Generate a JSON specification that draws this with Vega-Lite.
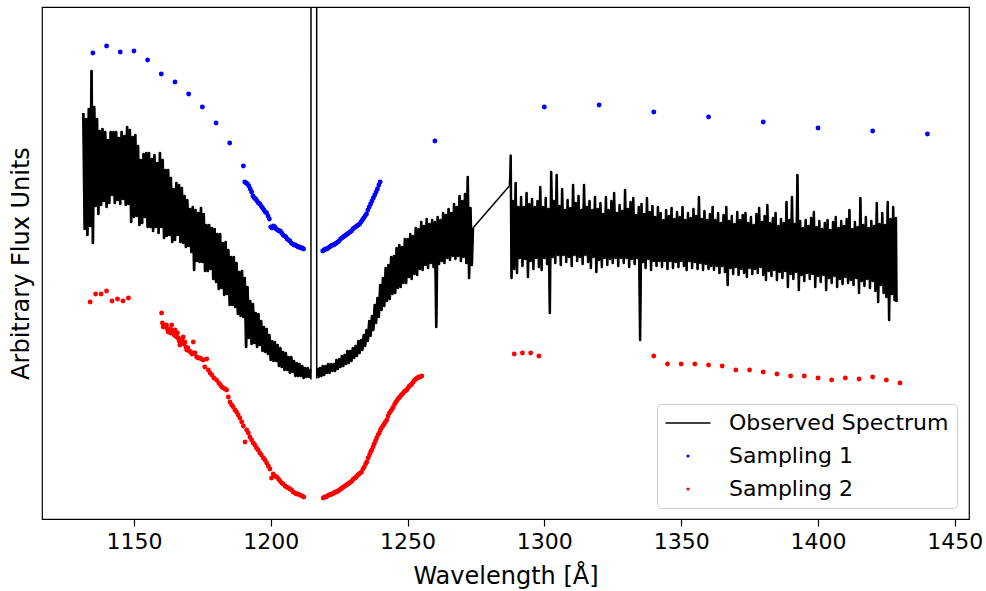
{
"$schema":"https://vega.github.io/schema/vega-lite/v6.json",
"width":927,"height":512,
"autosize":{"type":"none"},
"padding":{"left":42,"top":7,"right":17,"bottom":72},
"background":"white",
"config":{"font":"DejaVu Sans","view":{"stroke":"black","strokeWidth":1.2}},
"datasets":{
"spec":[
{"w":1131.5,"f":406},{"w":1132,"f":290},{"w":1132.5,"f":400},{"w":1133,"f":284},{"w":1133.5,"f":410},{"w":1134,"f":293},{"w":1134.5,"f":448},{"w":1135,"f":276},{"w":1135.5,"f":412},{"w":1136,"f":313},{"w":1136.5,"f":400},{"w":1137,"f":305},{"w":1137.5,"f":388},{"w":1138,"f":314},{"w":1138.5,"f":390},{"w":1139,"f":318},{"w":1139.5,"f":387},{"w":1140,"f":312},{"w":1140.5,"f":379},{"w":1141,"f":316},{"w":1141.5,"f":387},{"w":1142,"f":324},{"w":1142.5,"f":387},{"w":1143,"f":316},{"w":1143.5,"f":387},{"w":1144,"f":319},{"w":1144.5,"f":381},{"w":1145,"f":315},{"w":1145.5,"f":387},{"w":1146,"f":320},{"w":1146.5,"f":383},{"w":1147,"f":314},{"w":1147.5,"f":392},{"w":1148,"f":315},{"w":1148.5,"f":389},{"w":1149,"f":297},{"w":1149.5,"f":382},{"w":1150,"f":302},{"w":1150.5,"f":384},{"w":1151,"f":303},{"w":1151.5,"f":373},{"w":1152,"f":294},{"w":1152.5,"f":359},{"w":1153,"f":296},{"w":1153.5,"f":365},{"w":1154,"f":302},{"w":1154.5,"f":366},{"w":1155,"f":292},{"w":1155.5,"f":366},{"w":1156,"f":292},{"w":1156.5,"f":360},{"w":1157,"f":288},{"w":1157.5,"f":364},{"w":1158,"f":292},{"w":1158.5,"f":356},{"w":1159,"f":286},{"w":1159.5,"f":366},{"w":1160,"f":292},{"w":1160.5,"f":359},{"w":1161,"f":281},{"w":1161.5,"f":349},{"w":1162,"f":283},{"w":1162.5,"f":349},{"w":1163,"f":284},{"w":1163.5,"f":341},{"w":1164,"f":277},{"w":1164.5,"f":330},{"w":1165,"f":279},{"w":1165.5,"f":336},{"w":1166,"f":284},{"w":1166.5,"f":334},{"w":1167,"f":277},{"w":1167.5,"f":331},{"w":1168,"f":276},{"w":1168.5,"f":323},{"w":1169,"f":272},{"w":1169.5,"f":319},{"w":1170,"f":273},{"w":1170.5,"f":310},{"w":1171,"f":267},{"w":1171.5,"f":312},{"w":1172,"f":249},{"w":1172.5,"f":309},{"w":1173,"f":258},{"w":1173.5,"f":306},{"w":1174,"f":257},{"w":1174.5,"f":311},{"w":1175,"f":257},{"w":1175.5,"f":305},{"w":1176,"f":248},{"w":1176.5,"f":294},{"w":1177,"f":248},{"w":1177.5,"f":294},{"w":1178,"f":250},{"w":1178.5,"f":291},{"w":1179,"f":240},{"w":1179.5,"f":290},{"w":1180,"f":237},{"w":1180.5,"f":285},{"w":1181,"f":230},{"w":1181.5,"f":285},{"w":1182,"f":231},{"w":1182.5,"f":276},{"w":1183,"f":224},{"w":1183.5,"f":277},{"w":1184,"f":225},{"w":1184.5,"f":269},{"w":1185,"f":214},{"w":1185.5,"f":262},{"w":1186,"f":214},{"w":1186.5,"f":262},{"w":1187,"f":212},{"w":1187.5,"f":256},{"w":1188,"f":205},{"w":1188.5,"f":247},{"w":1189,"f":203},{"w":1189.5,"f":248},{"w":1190,"f":202},{"w":1190.5,"f":241},{"w":1191,"f":172},{"w":1191.5,"f":232},{"w":1192,"f":181},{"w":1192.5,"f":218},{"w":1193,"f":175},{"w":1193.5,"f":215},{"w":1194,"f":176},{"w":1194.5,"f":206},{"w":1195,"f":172},{"w":1195.5,"f":205},{"w":1196,"f":174},{"w":1196.5,"f":198},{"w":1197,"f":168},{"w":1197.5,"f":192},{"w":1198,"f":167},{"w":1198.5,"f":190},{"w":1199,"f":165},{"w":1199.5,"f":184},{"w":1200,"f":159},{"w":1200.5,"f":178},{"w":1201,"f":158},{"w":1201.5,"f":177},{"w":1202,"f":158},{"w":1202.5,"f":174},{"w":1203,"f":153},{"w":1203.5,"f":171},{"w":1204,"f":152},{"w":1204.5,"f":167},{"w":1205,"f":149},{"w":1205.5,"f":166},{"w":1206,"f":149},{"w":1206.5,"f":162},{"w":1207,"f":146},{"w":1207.5,"f":162},{"w":1208,"f":147},{"w":1208.5,"f":158},{"w":1209,"f":143},{"w":1209.5,"f":156},{"w":1210,"f":143},{"w":1210.5,"f":155},{"w":1211,"f":143},{"w":1211.5,"f":153},{"w":1212,"f":141},{"w":1212.5,"f":151},{"w":1213,"f":142},{"w":1213.5,"f":151},{"w":1214,"f":142},{"w":1214.5,"f":150},{"w":1214.7,"f":140},{"w":1214.9,"f":6000},{"w":1216.6,"f":6000},{"w":1216.8,"f":141},
{"w":1217,"f":151},{"w":1217.5,"f":142},{"w":1218,"f":151},{"w":1218.5,"f":143},{"w":1219,"f":153},{"w":1219.5,"f":144},{"w":1220,"f":153},{"w":1220.5,"f":146},{"w":1221,"f":155},{"w":1221.5,"f":146},{"w":1222,"f":155},{"w":1222.5,"f":148},{"w":1223,"f":155},{"w":1223.5,"f":148},{"w":1224,"f":159},{"w":1224.5,"f":150},{"w":1225,"f":160},{"w":1225.5,"f":152},{"w":1226,"f":163},{"w":1226.5,"f":153},{"w":1227,"f":164},{"w":1227.5,"f":155},{"w":1228,"f":168},{"w":1228.5,"f":156},{"w":1229,"f":168},{"w":1229.5,"f":158},{"w":1230,"f":171},{"w":1230.5,"f":161},{"w":1231,"f":173},{"w":1231.5,"f":163},{"w":1232,"f":178},{"w":1232.5,"f":166},{"w":1233,"f":179},{"w":1233.5,"f":169},{"w":1234,"f":184},{"w":1234.5,"f":173},{"w":1235,"f":189},{"w":1235.5,"f":178},{"w":1236,"f":198},{"w":1236.5,"f":183},{"w":1237,"f":203},{"w":1237.5,"f":189},{"w":1238,"f":214},{"w":1238.5,"f":196},{"w":1239,"f":221},{"w":1239.5,"f":202},{"w":1240,"f":234},{"w":1240.5,"f":209},{"w":1241,"f":241},{"w":1241.5,"f":213},{"w":1242,"f":251},{"w":1242.5,"f":218},{"w":1243,"f":254},{"w":1243.5,"f":220},{"w":1244,"f":262},{"w":1244.5,"f":225},{"w":1245,"f":263},{"w":1245.5,"f":226},{"w":1246,"f":271},{"w":1246.5,"f":231},{"w":1247,"f":274},{"w":1247.5,"f":232},{"w":1248,"f":272},{"w":1248.5,"f":236},{"w":1249,"f":280},{"w":1249.5,"f":236},{"w":1250,"f":280},{"w":1250.5,"f":242},{"w":1251,"f":285},{"w":1251.5,"f":240},{"w":1252,"f":283},{"w":1252.5,"f":245},{"w":1253,"f":291},{"w":1253.5,"f":244},{"w":1254,"f":290},{"w":1254.5,"f":250},{"w":1255,"f":297},{"w":1255.5,"f":249},{"w":1256,"f":293},{"w":1256.5,"f":254},{"w":1257,"f":300},{"w":1257.5,"f":251},{"w":1258,"f":295},{"w":1258.5,"f":256},{"w":1259,"f":299},{"w":1259.5,"f":252},{"w":1260,"f":297},{"w":1260.5,"f":192},{"w":1261,"f":302},{"w":1261.5,"f":255},{"w":1262,"f":299},{"w":1262.5,"f":258},{"w":1263,"f":306},{"w":1263.5,"f":256},{"w":1264,"f":304},{"w":1264.5,"f":261},{"w":1265,"f":310},{"w":1265.5,"f":259},{"w":1266,"f":306},{"w":1266.5,"f":263},{"w":1267,"f":315},{"w":1267.5,"f":260},{"w":1268,"f":312},{"w":1268.5,"f":263},{"w":1269,"f":323},{"w":1269.5,"f":258},{"w":1270,"f":318},{"w":1270.5,"f":262},{"w":1271,"f":325},{"w":1271.5,"f":256},{"w":1272,"f":342},{"w":1272.5,"f":241},{"w":1273,"f":311},{"w":1273.5,"f":254},{"w":1273.9,"f":291},
{"w":1287.2,"f":333},{"w":1287.7,"f":364},{"w":1288,"f":241},
{"w":1288.5,"f":318},{"w":1289,"f":250},{"w":1289.5,"f":336},{"w":1290,"f":246},{"w":1290.5,"f":312},{"w":1291,"f":261},{"w":1291.5,"f":322},{"w":1292,"f":253},{"w":1292.5,"f":312},{"w":1293,"f":260},{"w":1293.5,"f":326},{"w":1294,"f":242},{"w":1294.5,"f":315},{"w":1295,"f":258},{"w":1295.5,"f":320},{"w":1296,"f":250},{"w":1296.5,"f":312},{"w":1297,"f":261},{"w":1297.5,"f":318},{"w":1298,"f":252},{"w":1298.5,"f":332},{"w":1299,"f":249},{"w":1299.5,"f":312},{"w":1300,"f":261},{"w":1300.5,"f":321},{"w":1301,"f":255},{"w":1301.5,"f":310},{"w":1302,"f":206},{"w":1302.5,"f":347},{"w":1303,"f":262},{"w":1303.5,"f":318},{"w":1304,"f":256},{"w":1304.5,"f":344},{"w":1305,"f":264},{"w":1305.5,"f":313},{"w":1306,"f":254},{"w":1306.5,"f":330},{"w":1307,"f":264},{"w":1307.5,"f":309},{"w":1308,"f":257},{"w":1308.5,"f":319},{"w":1309,"f":262},{"w":1309.5,"f":311},{"w":1310,"f":253},{"w":1310.5,"f":334},{"w":1311,"f":264},{"w":1311.5,"f":316},{"w":1312,"f":258},{"w":1312.5,"f":323},{"w":1313,"f":262},{"w":1313.5,"f":309},{"w":1314,"f":255},{"w":1314.5,"f":334},{"w":1315,"f":264},{"w":1315.5,"f":312},{"w":1316,"f":257},{"w":1316.5,"f":318},{"w":1317,"f":251},{"w":1317.5,"f":309},{"w":1318,"f":262},{"w":1318.5,"f":322},{"w":1319,"f":247},{"w":1319.5,"f":310},{"w":1320,"f":259},{"w":1320.5,"f":316},{"w":1321,"f":252},{"w":1321.5,"f":305},{"w":1322,"f":261},{"w":1322.5,"f":322},{"w":1323,"f":254},{"w":1323.5,"f":309},{"w":1324,"f":260},{"w":1324.5,"f":318},{"w":1325,"f":256},{"w":1325.5,"f":326},{"w":1326,"f":261},{"w":1326.5,"f":306},{"w":1327,"f":253},{"w":1327.5,"f":314},{"w":1328,"f":261},{"w":1328.5,"f":308},{"w":1329,"f":256},{"w":1329.5,"f":329},{"w":1330,"f":261},{"w":1330.5,"f":310},{"w":1331,"f":252},{"w":1331.5,"f":317},{"w":1332,"f":260},{"w":1332.5,"f":321},{"w":1333,"f":255},{"w":1333.5,"f":304},{"w":1334,"f":261},{"w":1334.5,"f":312},{"w":1335,"f":179},{"w":1335.5,"f":315},{"w":1336,"f":257},{"w":1336.5,"f":305},{"w":1337,"f":251},{"w":1337.5,"f":321},{"w":1338,"f":260},{"w":1338.5,"f":307},{"w":1339,"f":249},{"w":1339.5,"f":313},{"w":1340,"f":258},{"w":1340.5,"f":302},{"w":1341,"f":253},{"w":1341.5,"f":312},{"w":1342,"f":258},{"w":1342.5,"f":306},{"w":1343,"f":252},{"w":1343.5,"f":299},{"w":1344,"f":258},{"w":1344.5,"f":309},{"w":1345,"f":250},{"w":1345.5,"f":303},{"w":1346,"f":258},{"w":1346.5,"f":311},{"w":1347,"f":251},{"w":1347.5,"f":300},{"w":1348,"f":257},{"w":1348.5,"f":307},{"w":1349,"f":252},{"w":1349.5,"f":302},{"w":1350,"f":258},{"w":1350.5,"f":312},{"w":1351,"f":253},{"w":1351.5,"f":299},{"w":1352,"f":249},{"w":1352.5,"f":306},{"w":1353,"f":258},{"w":1353.5,"f":301},{"w":1354,"f":251},{"w":1354.5,"f":310},{"w":1355,"f":257},{"w":1355.5,"f":303},{"w":1356,"f":250},{"w":1356.5,"f":322},{"w":1357,"f":256},{"w":1357.5,"f":300},{"w":1358,"f":249},{"w":1358.5,"f":308},{"w":1359,"f":255},{"w":1359.5,"f":299},{"w":1360,"f":250},{"w":1360.5,"f":305},{"w":1361,"f":253},{"w":1361.5,"f":312},{"w":1362,"f":249},{"w":1362.5,"f":299},{"w":1363,"f":253},{"w":1363.5,"f":306},{"w":1364,"f":246},{"w":1364.5,"f":296},{"w":1365,"f":253},{"w":1365.5,"f":304},{"w":1366,"f":247},{"w":1366.5,"f":312},{"w":1367,"f":234},{"w":1367.5,"f":298},{"w":1368,"f":251},{"w":1368.5,"f":303},{"w":1369,"f":245},{"w":1369.5,"f":295},{"w":1370,"f":252},{"w":1370.5,"f":307},{"w":1371,"f":244},{"w":1371.5,"f":299},{"w":1372,"f":250},{"w":1372.5,"f":304},{"w":1373,"f":246},{"w":1373.5,"f":306},{"w":1374,"f":242},{"w":1374.5,"f":296},{"w":1375,"f":251},{"w":1375.5,"f":302},{"w":1376,"f":245},{"w":1376.5,"f":294},{"w":1377,"f":250},{"w":1377.5,"f":305},{"w":1378,"f":246},{"w":1378.5,"f":311},{"w":1379,"f":252},{"w":1379.5,"f":297},{"w":1380,"f":244},{"w":1380.5,"f":303},{"w":1381,"f":239},{"w":1381.5,"f":314},{"w":1382,"f":248},{"w":1382.5,"f":296},{"w":1383,"f":243},{"w":1383.5,"f":301},{"w":1384,"f":249},{"w":1384.5,"f":306},{"w":1385,"f":239},{"w":1385.5,"f":293},{"w":1386,"f":247},{"w":1386.5,"f":300},{"w":1387,"f":241},{"w":1387.5,"f":296},{"w":1388,"f":248},{"w":1388.5,"f":317},{"w":1389,"f":232},{"w":1389.5,"f":299},{"w":1390,"f":245},{"w":1390.5,"f":322},{"w":1391,"f":240},{"w":1391.5,"f":295},{"w":1392,"f":247},{"w":1392.5,"f":344},{"w":1393,"f":229},{"w":1393.5,"f":298},{"w":1394,"f":244},{"w":1394.5,"f":291},{"w":1395,"f":238},{"w":1395.5,"f":299},{"w":1396,"f":246},{"w":1396.5,"f":293},{"w":1397,"f":240},{"w":1397.5,"f":301},{"w":1398,"f":245},{"w":1398.5,"f":307},{"w":1399,"f":232},{"w":1399.5,"f":292},{"w":1400,"f":243},{"w":1400.5,"f":298},{"w":1401,"f":237},{"w":1401.5,"f":290},{"w":1402,"f":244},{"w":1402.5,"f":296},{"w":1403,"f":229},{"w":1403.5,"f":299},{"w":1404,"f":241},{"w":1404.5,"f":289},{"w":1405,"f":236},{"w":1405.5,"f":297},{"w":1406,"f":243},{"w":1406.5,"f":302},{"w":1407,"f":232},{"w":1407.5,"f":291},{"w":1408,"f":240},{"w":1408.5,"f":298},{"w":1409,"f":235},{"w":1409.5,"f":293},{"w":1410,"f":242},{"w":1410.5,"f":300},{"w":1411,"f":236},{"w":1411.5,"f":309},{"w":1412,"f":239},{"w":1412.5,"f":290},{"w":1413,"f":234},{"w":1413.5,"f":297},{"w":1414,"f":241},{"w":1414.5,"f":292},{"w":1415,"f":226},{"w":1415.5,"f":321},{"w":1416,"f":238},{"w":1416.5,"f":294},{"w":1417,"f":233},{"w":1417.5,"f":302},{"w":1418,"f":240},{"w":1418.5,"f":291},{"w":1419,"f":231},{"w":1419.5,"f":298},{"w":1420,"f":238},{"w":1420.5,"f":293},{"w":1421,"f":228},{"w":1421.5,"f":316},{"w":1422,"f":217},{"w":1422.5,"f":295},{"w":1423,"f":234},{"w":1423.5,"f":306},{"w":1424,"f":226},{"w":1424.5,"f":294},{"w":1425,"f":222},{"w":1425.5,"f":317},{"w":1426,"f":199},{"w":1426.5,"f":300},{"w":1427,"f":225},{"w":1427.5,"f":312},{"w":1428,"f":219},{"w":1428.5,"f":301},{"w":1428.7,"f":217}
],
"samp":[
{"w":1135,"f":466,"s":"Sampling 1"},{"w":1140,"f":473,"s":"Sampling 1"},{"w":1145,"f":467,"s":"Sampling 1"},{"w":1150,"f":468,"s":"Sampling 1"},{"w":1155,"f":459,"s":"Sampling 1"},{"w":1160,"f":445,"s":"Sampling 1"},{"w":1165,"f":437,"s":"Sampling 1"},{"w":1170,"f":425,"s":"Sampling 1"},{"w":1175,"f":412,"s":"Sampling 1"},{"w":1180,"f":396,"s":"Sampling 1"},{"w":1185,"f":376,"s":"Sampling 1"},{"w":1190,"f":353,"s":"Sampling 1"},
{"w":1190.5,"f":337,"s":"Sampling 1"},{"w":1191,"f":336,"s":"Sampling 1"},{"w":1191.5,"f":335,"s":"Sampling 1"},{"w":1192,"f":333,"s":"Sampling 1"},{"w":1192.5,"f":330,"s":"Sampling 1"},{"w":1193,"f":327,"s":"Sampling 1"},{"w":1193.5,"f":323,"s":"Sampling 1"},{"w":1194,"f":321,"s":"Sampling 1"},{"w":1194.5,"f":320,"s":"Sampling 1"},{"w":1195,"f":318,"s":"Sampling 1"},{"w":1195.5,"f":316,"s":"Sampling 1"},{"w":1196,"f":315,"s":"Sampling 1"},{"w":1196.5,"f":313,"s":"Sampling 1"},{"w":1197,"f":311,"s":"Sampling 1"},{"w":1197.5,"f":309,"s":"Sampling 1"},{"w":1198,"f":307,"s":"Sampling 1"},{"w":1198.5,"f":306,"s":"Sampling 1"},{"w":1199,"f":303,"s":"Sampling 1"},{"w":1199.5,"f":300,"s":"Sampling 1"},{"w":1200,"f":292,"s":"Sampling 1"},{"w":1200.5,"f":291,"s":"Sampling 1"},{"w":1201,"f":293,"s":"Sampling 1"},{"w":1201.5,"f":292,"s":"Sampling 1"},{"w":1202,"f":290,"s":"Sampling 1"},{"w":1202.5,"f":289,"s":"Sampling 1"},{"w":1203,"f":288,"s":"Sampling 1"},{"w":1203.5,"f":288,"s":"Sampling 1"},{"w":1204,"f":286,"s":"Sampling 1"},{"w":1204.5,"f":284,"s":"Sampling 1"},{"w":1205,"f":283,"s":"Sampling 1"},{"w":1205.5,"f":282,"s":"Sampling 1"},{"w":1206,"f":280,"s":"Sampling 1"},{"w":1206.5,"f":279,"s":"Sampling 1"},{"w":1207,"f":278,"s":"Sampling 1"},{"w":1207.5,"f":276,"s":"Sampling 1"},{"w":1208,"f":275,"s":"Sampling 1"},{"w":1208.5,"f":274,"s":"Sampling 1"},{"w":1209,"f":274,"s":"Sampling 1"},{"w":1209.5,"f":273,"s":"Sampling 1"},{"w":1210,"f":272,"s":"Sampling 1"},{"w":1210.5,"f":272,"s":"Sampling 1"},{"w":1211,"f":271,"s":"Sampling 1"},{"w":1211.5,"f":271,"s":"Sampling 1"},{"w":1212,"f":270,"s":"Sampling 1"},
{"w":1219,"f":268,"s":"Sampling 1"},{"w":1219.5,"f":269,"s":"Sampling 1"},{"w":1220,"f":270,"s":"Sampling 1"},{"w":1220.5,"f":270,"s":"Sampling 1"},{"w":1221,"f":271,"s":"Sampling 1"},{"w":1221.5,"f":272,"s":"Sampling 1"},{"w":1222,"f":273,"s":"Sampling 1"},{"w":1222.5,"f":274,"s":"Sampling 1"},{"w":1223,"f":274,"s":"Sampling 1"},{"w":1223.5,"f":275,"s":"Sampling 1"},{"w":1224,"f":276,"s":"Sampling 1"},{"w":1224.5,"f":277,"s":"Sampling 1"},{"w":1225,"f":278,"s":"Sampling 1"},{"w":1225.5,"f":280,"s":"Sampling 1"},{"w":1226,"f":281,"s":"Sampling 1"},{"w":1226.5,"f":282,"s":"Sampling 1"},{"w":1227,"f":283,"s":"Sampling 1"},{"w":1227.5,"f":284,"s":"Sampling 1"},{"w":1228,"f":285,"s":"Sampling 1"},{"w":1228.5,"f":286,"s":"Sampling 1"},{"w":1229,"f":287,"s":"Sampling 1"},{"w":1229.5,"f":288,"s":"Sampling 1"},{"w":1230,"f":290,"s":"Sampling 1"},{"w":1230.5,"f":291,"s":"Sampling 1"},{"w":1231,"f":292,"s":"Sampling 1"},{"w":1231.5,"f":293,"s":"Sampling 1"},{"w":1232,"f":294,"s":"Sampling 1"},{"w":1232.5,"f":295,"s":"Sampling 1"},{"w":1233,"f":297,"s":"Sampling 1"},{"w":1233.5,"f":299,"s":"Sampling 1"},{"w":1234,"f":301,"s":"Sampling 1"},{"w":1234.5,"f":303,"s":"Sampling 1"},{"w":1235,"f":305,"s":"Sampling 1"},{"w":1235.5,"f":309,"s":"Sampling 1"},{"w":1236,"f":312,"s":"Sampling 1"},{"w":1236.5,"f":315,"s":"Sampling 1"},{"w":1237,"f":318,"s":"Sampling 1"},{"w":1237.5,"f":321,"s":"Sampling 1"},{"w":1238,"f":324,"s":"Sampling 1"},{"w":1238.5,"f":327,"s":"Sampling 1"},{"w":1239,"f":330,"s":"Sampling 1"},{"w":1239.5,"f":334,"s":"Sampling 1"},{"w":1240,"f":337,"s":"Sampling 1"},
{"w":1260,"f":378,"s":"Sampling 1"},{"w":1300,"f":412,"s":"Sampling 1"},{"w":1320,"f":414,"s":"Sampling 1"},{"w":1340,"f":407,"s":"Sampling 1"},{"w":1360,"f":402,"s":"Sampling 1"},{"w":1380,"f":397,"s":"Sampling 1"},{"w":1400,"f":391,"s":"Sampling 1"},{"w":1420,"f":388,"s":"Sampling 1"},{"w":1440,"f":385,"s":"Sampling 1"},
{"w":1134,"f":217,"s":"Sampling 2"},{"w":1136,"f":225,"s":"Sampling 2"},{"w":1138,"f":225,"s":"Sampling 2"},{"w":1140,"f":228,"s":"Sampling 2"},{"w":1142,"f":218,"s":"Sampling 2"},{"w":1144,"f":220,"s":"Sampling 2"},{"w":1146,"f":218,"s":"Sampling 2"},{"w":1148,"f":221,"s":"Sampling 2"},
{"w":1160.1,"f":206,"s":"Sampling 2"},{"w":1160.4,"f":196,"s":"Sampling 2"},{"w":1160.7,"f":192,"s":"Sampling 2"},{"w":1161.2,"f":193,"s":"Sampling 2"},{"w":1161.9,"f":194,"s":"Sampling 2"},{"w":1162.2,"f":190,"s":"Sampling 2"},{"w":1162.5,"f":187,"s":"Sampling 2"},{"w":1163,"f":190,"s":"Sampling 2"},{"w":1163.4,"f":186,"s":"Sampling 2"},{"w":1163.8,"f":194,"s":"Sampling 2"},{"w":1164.1,"f":189,"s":"Sampling 2"},{"w":1164.4,"f":187,"s":"Sampling 2"},{"w":1164.7,"f":184,"s":"Sampling 2"},{"w":1165,"f":189,"s":"Sampling 2"},{"w":1165.3,"f":183,"s":"Sampling 2"},{"w":1165.6,"f":182,"s":"Sampling 2"},{"w":1165.9,"f":186,"s":"Sampling 2"},{"w":1166.2,"f":181,"s":"Sampling 2"},{"w":1166.5,"f":178,"s":"Sampling 2"},{"w":1166.8,"f":174,"s":"Sampling 2"},{"w":1167.1,"f":179,"s":"Sampling 2"},{"w":1167.4,"f":179,"s":"Sampling 2"},{"w":1167.7,"f":176,"s":"Sampling 2"},{"w":1168,"f":182,"s":"Sampling 2"},{"w":1168.3,"f":175,"s":"Sampling 2"},{"w":1168.6,"f":177,"s":"Sampling 2"},{"w":1169,"f":172,"s":"Sampling 2"},{"w":1169.3,"f":169,"s":"Sampling 2"},{"w":1169.7,"f":171,"s":"Sampling 2"},{"w":1170.2,"f":168,"s":"Sampling 2"},{"w":1170.7,"f":167,"s":"Sampling 2"},{"w":1171.2,"f":165,"s":"Sampling 2"},{"w":1171.7,"f":177,"s":"Sampling 2"},{"w":1172,"f":166,"s":"Sampling 2"},{"w":1172.3,"f":166,"s":"Sampling 2"},{"w":1172.9,"f":162,"s":"Sampling 2"},{"w":1173.5,"f":161,"s":"Sampling 2"},{"w":1174.1,"f":161,"s":"Sampling 2"},{"w":1174.7,"f":160,"s":"Sampling 2"},{"w":1175.3,"f":159,"s":"Sampling 2"},{"w":1175.9,"f":152,"s":"Sampling 2"},{"w":1176.6,"f":160,"s":"Sampling 2"},{"w":1177.2,"f":149,"s":"Sampling 2"},{"w":1177.8,"f":146,"s":"Sampling 2"},{"w":1178.5,"f":144,"s":"Sampling 2"},{"w":1179.2,"f":141,"s":"Sampling 2"},{"w":1180.2,"f":139,"s":"Sampling 2"},{"w":1181,"f":136,"s":"Sampling 2"},{"w":1181.6,"f":134,"s":"Sampling 2"},{"w":1182.1,"f":132,"s":"Sampling 2"},{"w":1182.7,"f":131,"s":"Sampling 2"},{"w":1183.3,"f":130,"s":"Sampling 2"},{"w":1183.9,"f":129,"s":"Sampling 2"},{"w":1184.5,"f":122,"s":"Sampling 2"},{"w":1185.1,"f":117,"s":"Sampling 2"},{"w":1185.7,"f":114,"s":"Sampling 2"},{"w":1186.3,"f":112,"s":"Sampling 2"},{"w":1186.9,"f":109,"s":"Sampling 2"},{"w":1187.5,"f":107,"s":"Sampling 2"},{"w":1188.1,"f":104,"s":"Sampling 2"},{"w":1188.7,"f":101,"s":"Sampling 2"},{"w":1189.4,"f":97,"s":"Sampling 2"},{"w":1190,"f":93,"s":"Sampling 2"},{"w":1190.6,"f":77,"s":"Sampling 2"},{"w":1191.2,"f":89,"s":"Sampling 2"},{"w":1191.8,"f":86,"s":"Sampling 2"},{"w":1192.4,"f":82,"s":"Sampling 2"},{"w":1193,"f":79,"s":"Sampling 2"},{"w":1193.6,"f":76,"s":"Sampling 2"},{"w":1194.2,"f":74,"s":"Sampling 2"},{"w":1194.8,"f":71,"s":"Sampling 2"},{"w":1195.4,"f":69,"s":"Sampling 2"},{"w":1196,"f":66,"s":"Sampling 2"},{"w":1196.6,"f":64,"s":"Sampling 2"},{"w":1197.3,"f":61,"s":"Sampling 2"},{"w":1197.9,"f":59,"s":"Sampling 2"},{"w":1198.5,"f":56,"s":"Sampling 2"},{"w":1199.1,"f":53,"s":"Sampling 2"},{"w":1199.7,"f":50,"s":"Sampling 2"},{"w":1200.3,"f":41,"s":"Sampling 2"},{"w":1200.9,"f":45,"s":"Sampling 2"},{"w":1201.5,"f":43,"s":"Sampling 2"},{"w":1202.2,"f":42,"s":"Sampling 2"},{"w":1202.8,"f":40,"s":"Sampling 2"},{"w":1203.4,"f":38,"s":"Sampling 2"},{"w":1204,"f":36,"s":"Sampling 2"},{"w":1204.6,"f":35,"s":"Sampling 2"},{"w":1205.2,"f":33,"s":"Sampling 2"},{"w":1205.8,"f":32,"s":"Sampling 2"},{"w":1206.4,"f":31,"s":"Sampling 2"},{"w":1207,"f":30,"s":"Sampling 2"},{"w":1207.6,"f":29,"s":"Sampling 2"},{"w":1208.2,"f":27,"s":"Sampling 2"},{"w":1208.8,"f":26,"s":"Sampling 2"},{"w":1209.4,"f":25,"s":"Sampling 2"},{"w":1210,"f":25,"s":"Sampling 2"},{"w":1210.7,"f":24,"s":"Sampling 2"},{"w":1211.4,"f":23,"s":"Sampling 2"},{"w":1212.1,"f":22,"s":"Sampling 2"},
{"w":1219.2,"f":21,"s":"Sampling 2"},{"w":1219.7,"f":22,"s":"Sampling 2"},{"w":1220.2,"f":22,"s":"Sampling 2"},{"w":1220.7,"f":23,"s":"Sampling 2"},{"w":1221.2,"f":24,"s":"Sampling 2"},{"w":1221.6,"f":24,"s":"Sampling 2"},{"w":1222.1,"f":25,"s":"Sampling 2"},{"w":1222.6,"f":25,"s":"Sampling 2"},{"w":1223.1,"f":26,"s":"Sampling 2"},{"w":1223.6,"f":27,"s":"Sampling 2"},{"w":1224.1,"f":27,"s":"Sampling 2"},{"w":1224.6,"f":28,"s":"Sampling 2"},{"w":1225.1,"f":29,"s":"Sampling 2"},{"w":1225.6,"f":30,"s":"Sampling 2"},{"w":1226.1,"f":31,"s":"Sampling 2"},{"w":1226.6,"f":32,"s":"Sampling 2"},{"w":1227.1,"f":33,"s":"Sampling 2"},{"w":1227.7,"f":34,"s":"Sampling 2"},{"w":1228.2,"f":35,"s":"Sampling 2"},{"w":1228.7,"f":36,"s":"Sampling 2"},{"w":1229.2,"f":37,"s":"Sampling 2"},{"w":1229.7,"f":38,"s":"Sampling 2"},{"w":1230.2,"f":40,"s":"Sampling 2"},{"w":1230.8,"f":41,"s":"Sampling 2"},{"w":1231.3,"f":42,"s":"Sampling 2"},{"w":1231.8,"f":44,"s":"Sampling 2"},{"w":1232.3,"f":45,"s":"Sampling 2"},{"w":1232.8,"f":46,"s":"Sampling 2"},{"w":1233.2,"f":47,"s":"Sampling 2"},{"w":1233.7,"f":50,"s":"Sampling 2"},{"w":1234.2,"f":52,"s":"Sampling 2"},{"w":1234.7,"f":55,"s":"Sampling 2"},{"w":1235.1,"f":57,"s":"Sampling 2"},{"w":1235.6,"f":61,"s":"Sampling 2"},{"w":1236.1,"f":64,"s":"Sampling 2"},{"w":1236.5,"f":67,"s":"Sampling 2"},{"w":1236.9,"f":69,"s":"Sampling 2"},{"w":1237.4,"f":72,"s":"Sampling 2"},{"w":1237.8,"f":75,"s":"Sampling 2"},{"w":1238.3,"f":78,"s":"Sampling 2"},{"w":1238.7,"f":81,"s":"Sampling 2"},{"w":1239.2,"f":84,"s":"Sampling 2"},{"w":1239.7,"f":86,"s":"Sampling 2"},{"w":1240.1,"f":89,"s":"Sampling 2"},{"w":1240.5,"f":91,"s":"Sampling 2"},{"w":1241,"f":93,"s":"Sampling 2"},{"w":1241.5,"f":95,"s":"Sampling 2"},{"w":1241.9,"f":97,"s":"Sampling 2"},{"w":1242.4,"f":99,"s":"Sampling 2"},{"w":1242.9,"f":103,"s":"Sampling 2"},{"w":1243.4,"f":106,"s":"Sampling 2"},{"w":1243.9,"f":108,"s":"Sampling 2"},{"w":1244.4,"f":110,"s":"Sampling 2"},{"w":1244.8,"f":112,"s":"Sampling 2"},{"w":1245.3,"f":115,"s":"Sampling 2"},{"w":1245.8,"f":117,"s":"Sampling 2"},{"w":1246.3,"f":119,"s":"Sampling 2"},{"w":1246.8,"f":121,"s":"Sampling 2"},{"w":1247.2,"f":122,"s":"Sampling 2"},{"w":1247.7,"f":124,"s":"Sampling 2"},{"w":1248.2,"f":125,"s":"Sampling 2"},{"w":1248.7,"f":127,"s":"Sampling 2"},{"w":1249.2,"f":128,"s":"Sampling 2"},{"w":1249.7,"f":129,"s":"Sampling 2"},{"w":1250.2,"f":131,"s":"Sampling 2"},{"w":1250.7,"f":133,"s":"Sampling 2"},{"w":1251.2,"f":134,"s":"Sampling 2"},{"w":1251.6,"f":135,"s":"Sampling 2"},{"w":1252.1,"f":137,"s":"Sampling 2"},{"w":1252.6,"f":139,"s":"Sampling 2"},{"w":1253.1,"f":140,"s":"Sampling 2"},{"w":1253.6,"f":141,"s":"Sampling 2"},{"w":1254.1,"f":142,"s":"Sampling 2"},{"w":1254.6,"f":142,"s":"Sampling 2"},{"w":1255.2,"f":143,"s":"Sampling 2"},
{"w":1289,"f":165,"s":"Sampling 2"},{"w":1292,"f":166,"s":"Sampling 2"},{"w":1295,"f":166,"s":"Sampling 2"},{"w":1298,"f":163,"s":"Sampling 2"},{"w":1340,"f":163,"s":"Sampling 2"},{"w":1345,"f":155,"s":"Sampling 2"},{"w":1350,"f":155,"s":"Sampling 2"},{"w":1355,"f":155,"s":"Sampling 2"},{"w":1360,"f":154,"s":"Sampling 2"},{"w":1365,"f":153,"s":"Sampling 2"},{"w":1370,"f":149,"s":"Sampling 2"},{"w":1375,"f":149,"s":"Sampling 2"},{"w":1380,"f":147,"s":"Sampling 2"},{"w":1385,"f":145,"s":"Sampling 2"},{"w":1390,"f":143,"s":"Sampling 2"},{"w":1395,"f":143,"s":"Sampling 2"},{"w":1400,"f":141,"s":"Sampling 2"},{"w":1405,"f":139,"s":"Sampling 2"},{"w":1410,"f":141,"s":"Sampling 2"},{"w":1415,"f":140,"s":"Sampling 2"},{"w":1420,"f":142,"s":"Sampling 2"},{"w":1425,"f":139,"s":"Sampling 2"},{"w":1430,"f":136,"s":"Sampling 2"}
]},
"encoding":{
"x":{"field":"w","type":"quantitative","scale":{"domain":[1116.4,1455.2],"nice":false,"zero":false},
"axis":{"title":"Wavelength [Å]","values":[1150,1200,1250,1300,1350,1400,1450],"format":"d","grid":false,"domain":false,"tickColor":"black","tickSize":7,"tickWidth":1.2,"labelFont":"DejaVu Sans","labelFontSize":22,"labelColor":"black","labelPadding":5,"labelFlush":false,"titleFont":"DejaVu Sans","titleFontSize":24,"titleFontWeight":"normal","titleColor":"black","titlePadding":12}},
"y":{"field":"f","type":"quantitative","scale":{"domain":[0,512],"nice":false,"zero":false},
"axis":{"title":"Arbitrary Flux Units","labels":false,"ticks":false,"domain":false,"grid":false,"titleFont":"DejaVu Sans","titleFontSize":24,"titleFontWeight":"normal","titleColor":"black","titlePadding":9}}
},
"layer":[
{"data":{"name":"spec"},"mark":{"type":"line","color":"black","strokeWidth":1.5,"clip":true,"strokeJoin":"round"}},
{"data":{"name":"spec"},"transform":[{"filter":{"field":"w","range":[1131,1214.6]}}],"mark":{"type":"line","color":"black","strokeWidth":2.7,"clip":true,"strokeJoin":"round"}},
{"data":{"name":"spec"},"transform":[{"filter":{"field":"w","range":[1216.9,1274]}}],"mark":{"type":"line","color":"black","strokeWidth":2.6,"clip":true,"strokeJoin":"round"}},
{"data":{"name":"spec"},"transform":[{"filter":{"field":"w","range":[1287.5,1429]}}],"mark":{"type":"line","color":"black","strokeWidth":2.5,"clip":true,"strokeJoin":"round"}},
{"data":{"name":"samp"},"mark":{"type":"point","filled":true,"size":24,"opacity":1,"strokeWidth":1.6},
"encoding":{
"color":{"field":"s","type":"nominal","scale":{"domain":["Observed Spectrum","Sampling 1","Sampling 2"],"range":["black","blue","red"]},
"legend":{"title":null,"orient":"none","legendX":615,"legendY":397,"direction":"vertical","padding":8,"cornerRadius":4,"strokeColor":"#cccccc","fillColor":"rgba(255,255,255,0.8)","labelFont":"DejaVu Sans","labelFontSize":22,"labelColor":"black","labelLimit":0,"symbolSize":10,"symbolStrokeWidth":1.6,"symbolOffset":12,"labelOffset":30,"rowPadding":11}},
"shape":{"field":"s","type":"nominal","scale":{"domain":["Observed Spectrum","Sampling 1","Sampling 2"],"range":["M-14.2,0L14.2,0","circle","circle"]},
"legend":{"title":null,"orient":"none","legendX":615,"legendY":397,"direction":"vertical","padding":8,"cornerRadius":4,"strokeColor":"#cccccc","fillColor":"rgba(255,255,255,0.8)","labelFont":"DejaVu Sans","labelFontSize":22,"labelColor":"black","labelLimit":0,"symbolSize":10,"symbolStrokeWidth":1.6,"symbolOffset":12,"labelOffset":30,"rowPadding":11}},
"stroke":{"field":"s","type":"nominal","scale":{"domain":["Observed Spectrum","Sampling 1","Sampling 2"],"range":["black","transparent","transparent"]},
"legend":{"title":null,"orient":"none","legendX":615,"legendY":397,"direction":"vertical","padding":8,"cornerRadius":4,"strokeColor":"#cccccc","fillColor":"rgba(255,255,255,0.8)","labelFont":"DejaVu Sans","labelFontSize":22,"labelColor":"black","labelLimit":0,"symbolSize":10,"symbolStrokeWidth":1.6,"symbolOffset":12,"labelOffset":30,"rowPadding":11}}
}}
]
}
